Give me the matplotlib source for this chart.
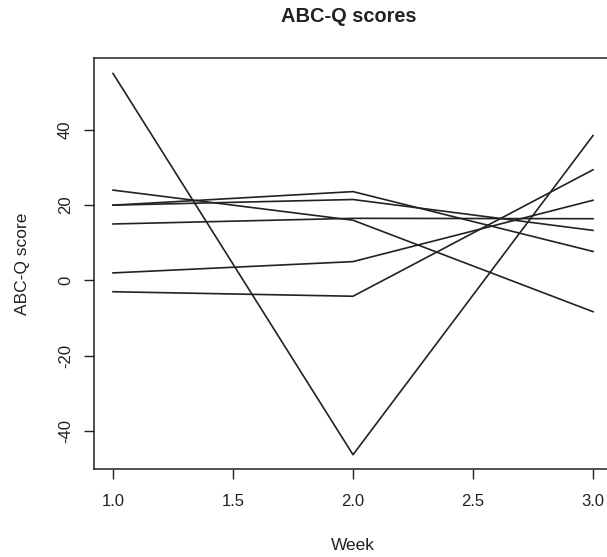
import matplotlib
matplotlib.use("Agg")
import matplotlib.pyplot as plt

weeks = [1, 2, 3]
series = [
    [55, -46.3, 38.5],
    [24, 16.0, -8.3],
    [20, 23.6, 7.7],
    [20, 21.5, 13.3],
    [15, 16.5, 16.4],
    [2, 5.0, 21.3],
    [-3, -4.2, 29.4],
]
xticks = [1.0, 1.5, 2.0, 2.5, 3.0]
yticks = [-40, -20, 0, 20, 40]

plt.rcParams['font.family'] = ['Liberation Sans', 'DejaVu Sans']

fig = plt.figure(figsize=(6.07, 5.57), dpi=100)
ax = fig.add_axes([93.8 / 607, 1 - 469 / 557, (612.2 - 93.8) / 607, (469 - 58) / 557])

for s in series:
    ax.plot(weeks, s, color='#222222', linewidth=1.2)

ax.set_xlim(0.92, 3.08)
ax.set_ylim(-50.1, 59.1)
ax.set_xticks(xticks)
ax.set_xticklabels([f"{v:.1f}" for v in xticks])
ax.set_yticks(yticks)
ax.set_yticklabels([str(v) for v in yticks], rotation=90, va='center')

for sp in ax.spines.values():
    sp.set_linewidth(1.1)
    sp.set_color('#222222')

ax.tick_params(axis='both', direction='out', length=7, width=1.0, colors='#222222',
               labelsize=12, labelcolor='#222222')
ax.tick_params(axis='x', pad=11)
ax.tick_params(axis='y', pad=8)

ax.set_xlabel('Week', fontsize=12.5, color='#222222', labelpad=21)
ax.set_ylabel('ABC-Q score', fontsize=12.5, color='#222222', labelpad=20)
fig.text(349 / 607, 1 - 16 / 557, 'ABC-Q scores', ha='center', va='center',
         fontsize=14.4, fontweight='bold', color='#222222')

fig.savefig('out.png', dpi=100)
